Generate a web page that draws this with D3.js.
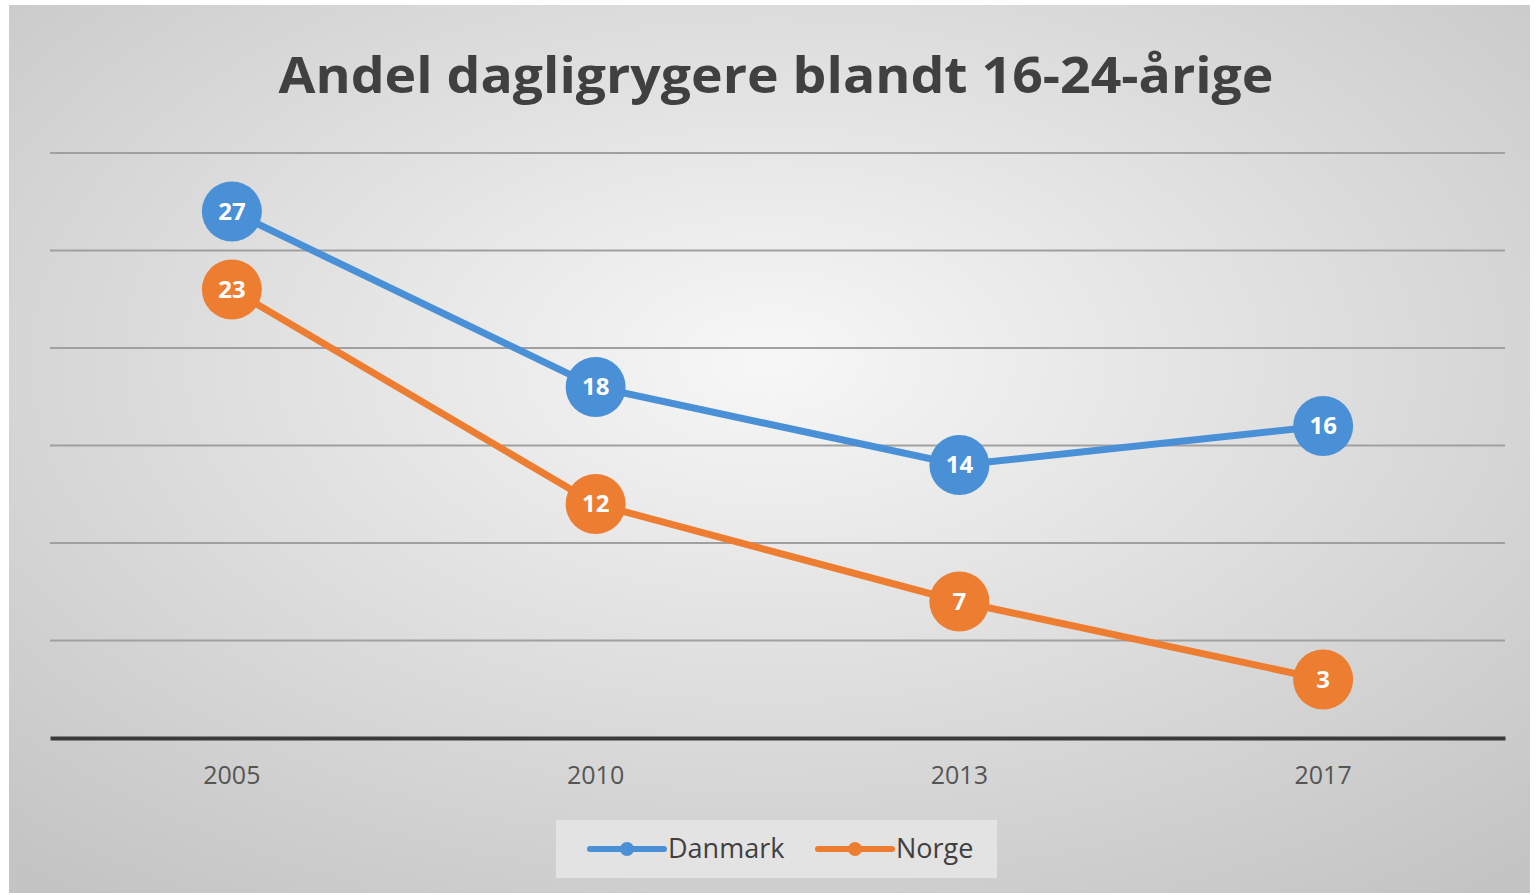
<!DOCTYPE html>
<html>
<head>
<meta charset="utf-8">
<script src="https://cdn.jsdelivr.net/npm/d3@7"></script>
<style>
  body { margin: 0; background: #ffffff; }
  svg { display: block; }
</style>
</head>
<body>
<div id="main"></div>
<script>
var years = ["2005", "2010", "2013", "2017"];
var danmark = [27, 18, 14, 16];
var norge = [23, 12, 7, 3];
var gridTicks = [5, 10, 15, 20, 25, 30];
var seriesNames = ["Danmark", "Norge"];
var seriesColors = ["#4a90d6", "#ed7d31"];

var width = 1536, height = 895;
var margin = {top: 153, right: 31, bottom: 157, left: 50};

var svg = d3.select('#main')
    .append('svg')
    .attr("width", width)
    .attr("height", height);

var defs = svg.append("defs");
var grad = defs.append("radialGradient")
    .attr("id", "bg")
    .attr("cx", "50%").attr("cy", "40%").attr("r", "75%");
grad.append("stop").attr("offset", "0%").attr("stop-color", "#f7f7f7");
grad.append("stop").attr("offset", "100%").attr("stop-color", "#c4c4c4");

svg.append("rect")
    .attr("x", 9).attr("y", 5)
    .attr("width", 1521).attr("height", 888)
    .attr("fill", "url(#bg)");

svg.append("text")
    .attr("x", 776)
    .attr("y", 93)
    .attr("text-anchor", "middle")
    .attr("font-family", "'Open Sans', sans-serif")
    .attr("font-weight", "bold")
    .attr("font-size", 50)
    .attr("textLength", 995)
    .attr("lengthAdjust", "spacingAndGlyphs")
    .attr("fill", "#404040")
    .text("Andel dagligrygere blandt 16-24-årige");

var x = d3.scaleBand()
    .domain(years)
    .range([margin.left, width - margin.right]);

var y = d3.scaleLinear()
    .domain([0, 30])
    .range([height - margin.bottom, margin.top]);

// gridlines
svg.append("g")
    .selectAll("line")
    .data(gridTicks)
    .enter().append("line")
    .attr("x1", margin.left)
    .attr("x2", width - margin.right)
    .attr("y1", function(d) { return y(d); })
    .attr("y2", function(d) { return y(d); })
    .attr("stroke", "#a0a0a0")
    .attr("stroke-width", 2);

// x axis
var xAxis = svg.append("g")
    .attr("transform", "translate(0," + y(0) + ")")
    .call(d3.axisBottom(x).tickSize(0).tickPadding(28));
xAxis.select(".domain")
    .attr("stroke", "#3a3a3a")
    .attr("stroke-width", 4);
xAxis.selectAll("text")
    .attr("font-family", "'Open Sans', sans-serif")
    .attr("font-size", 25)
    .attr("fill", "#555555");

var line = d3.line()
    .x(function(d, i) { return x(years[i]) + x.bandwidth() / 2; })
    .y(function(d) { return y(d); })
    .curve(d3.curveLinear);

var series = [danmark, norge];

series.forEach(function(values, si) {
    var color = seriesColors[si];
    svg.append("path")
        .datum(values)
        .attr("fill", "none")
        .attr("stroke", color)
        .attr("stroke-width", 7)
        .attr("d", line);

    var g = svg.append("g")
        .selectAll("g")
        .data(values)
        .enter().append("g")
        .attr("transform", function(d, i) {
            return "translate(" + (x(years[i]) + x.bandwidth() / 2) + "," + y(d) + ")";
        });

    g.append("circle")
        .attr("r", 30)
        .attr("fill", color);

    g.append("text")
        .attr("text-anchor", "middle")
        .attr("dy", "0.35em")
        .attr("font-family", "'Open Sans', sans-serif")
        .attr("font-weight", "bold")
        .attr("font-size", 24)
        .attr("fill", "#ffffff")
        .text(function(d) { return d; });
});

// legend
var legend = svg.append("g");
legend.append("rect")
    .attr("x", 556).attr("y", 820)
    .attr("width", 441).attr("height", 58)
    .attr("fill", "#e3e3e3");

var legendX = [590, 818];
seriesNames.forEach(function(name, i) {
    var lg = legend.append("g").attr("transform", "translate(" + legendX[i] + ",849)");
    lg.append("line")
        .attr("x1", 0).attr("x2", 74)
        .attr("stroke", seriesColors[i])
        .attr("stroke-width", 6)
        .attr("stroke-linecap", "round");
    lg.append("circle")
        .attr("cx", 37)
        .attr("r", 7)
        .attr("fill", seriesColors[i]);
    lg.append("text")
        .attr("x", 78)
        .attr("dy", "0.35em")
        .attr("font-family", "'Open Sans', sans-serif")
        .attr("font-size", 27)
        .attr("fill", "#404040")
        .text(name);
});
</script>
</body>
</html>
